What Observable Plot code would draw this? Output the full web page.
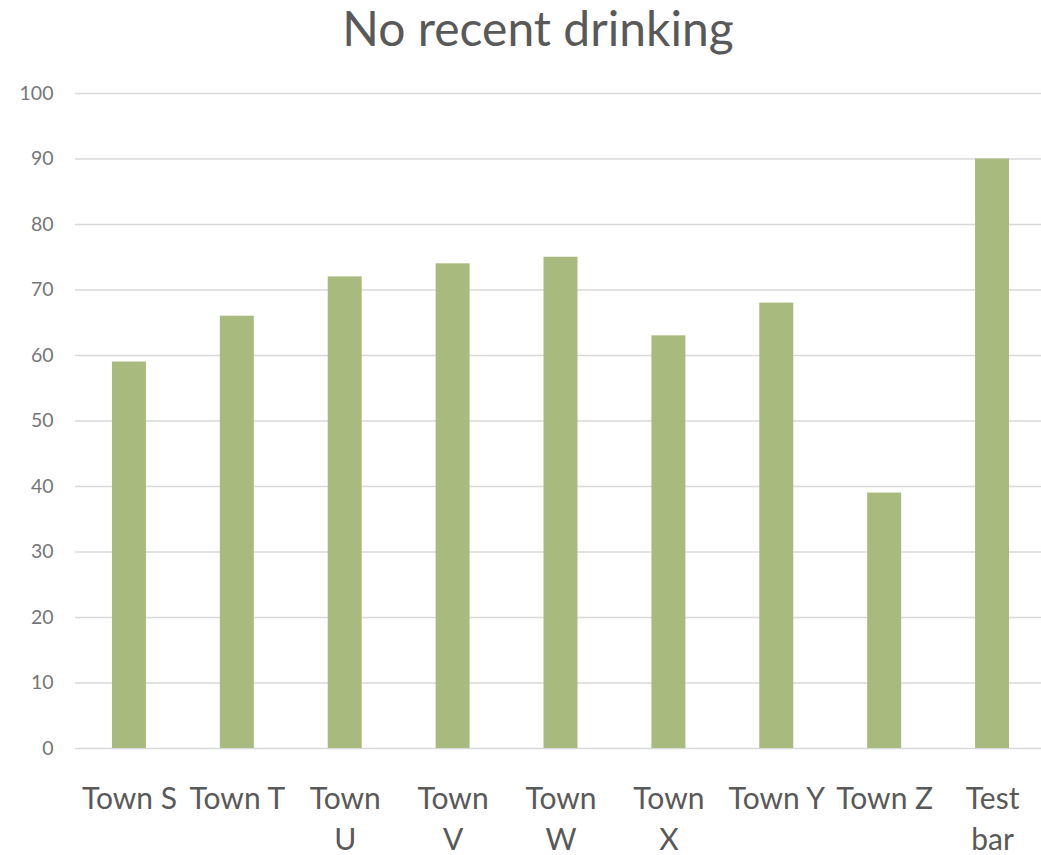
<!DOCTYPE html>
<html><head><meta charset="utf-8">
<script src="https://cdn.jsdelivr.net/npm/d3@7"></script>
<script src="https://cdn.jsdelivr.net/npm/@observablehq/plot@0.6"></script>
<style>
body{margin:0;background:#fff;font-family:Lato,"Open Sans",sans-serif;}
#title{height:65px;position:relative;width:1041px;}
#title span{position:absolute;left:0;right:0;padding-left:35px;text-align:center;top:0px;font-size:48px;line-height:56px;color:#595959;white-space:nowrap;}
</style></head><body>
<div id="title"><span>No recent drinking</span></div>
<div id="chart"></div>
<script>
const towns = ["Town S","Town T","Town U","Town V","Town W","Town X","Town Y","Town Z","Test bar"];
const values = [59, 66, 72, 74, 75, 63, 68, 39, 90];
const tickLabels = ["Town S","Town T","Town\nU","Town\nV","Town\nW","Town\nX","Town Y","Town Z","Test\nbar"];
const yTicks = [0,10,20,30,40,50,60,70,80,90,100];

const data = towns.map((t,i)=>({town:t, value:values[i], label:tickLabels[i]}));

const chart = Plot.plot({
  width:1041, height:790,
  marginTop:28, marginBottom:107, marginLeft:75, marginRight:0,
  style:{color:"#595959", fontFamily:"Lato, 'Open Sans', sans-serif", background:"#fff"},
  x:{domain:towns, range:[75,1046], paddingInner:0.685, paddingOuter:0.3425, round:false, axis:null},
  y:{domain:[0,100], axis:null},
  marks:[
    Plot.ruleY(yTicks, {stroke:"#d9d9d9", strokeWidth:1.3}),
    Plot.barY(data, {x:"town", y:"value", fill:"#a9ba7f"}),
    Plot.text(yTicks, {y:d=>d, text:d=>String(d), frameAnchor:"left", textAnchor:"end", dx:-22, fontSize:19.5, fill:"#767676"}),
    Plot.text(data, {x:"town", text:"label", frameAnchor:"bottom", lineAnchor:"top", dy:31, fontSize:30, lineHeight:1.37, fill:"#595959"})
  ]
});
document.getElementById("chart").appendChild(chart);
</script>
</body></html>
